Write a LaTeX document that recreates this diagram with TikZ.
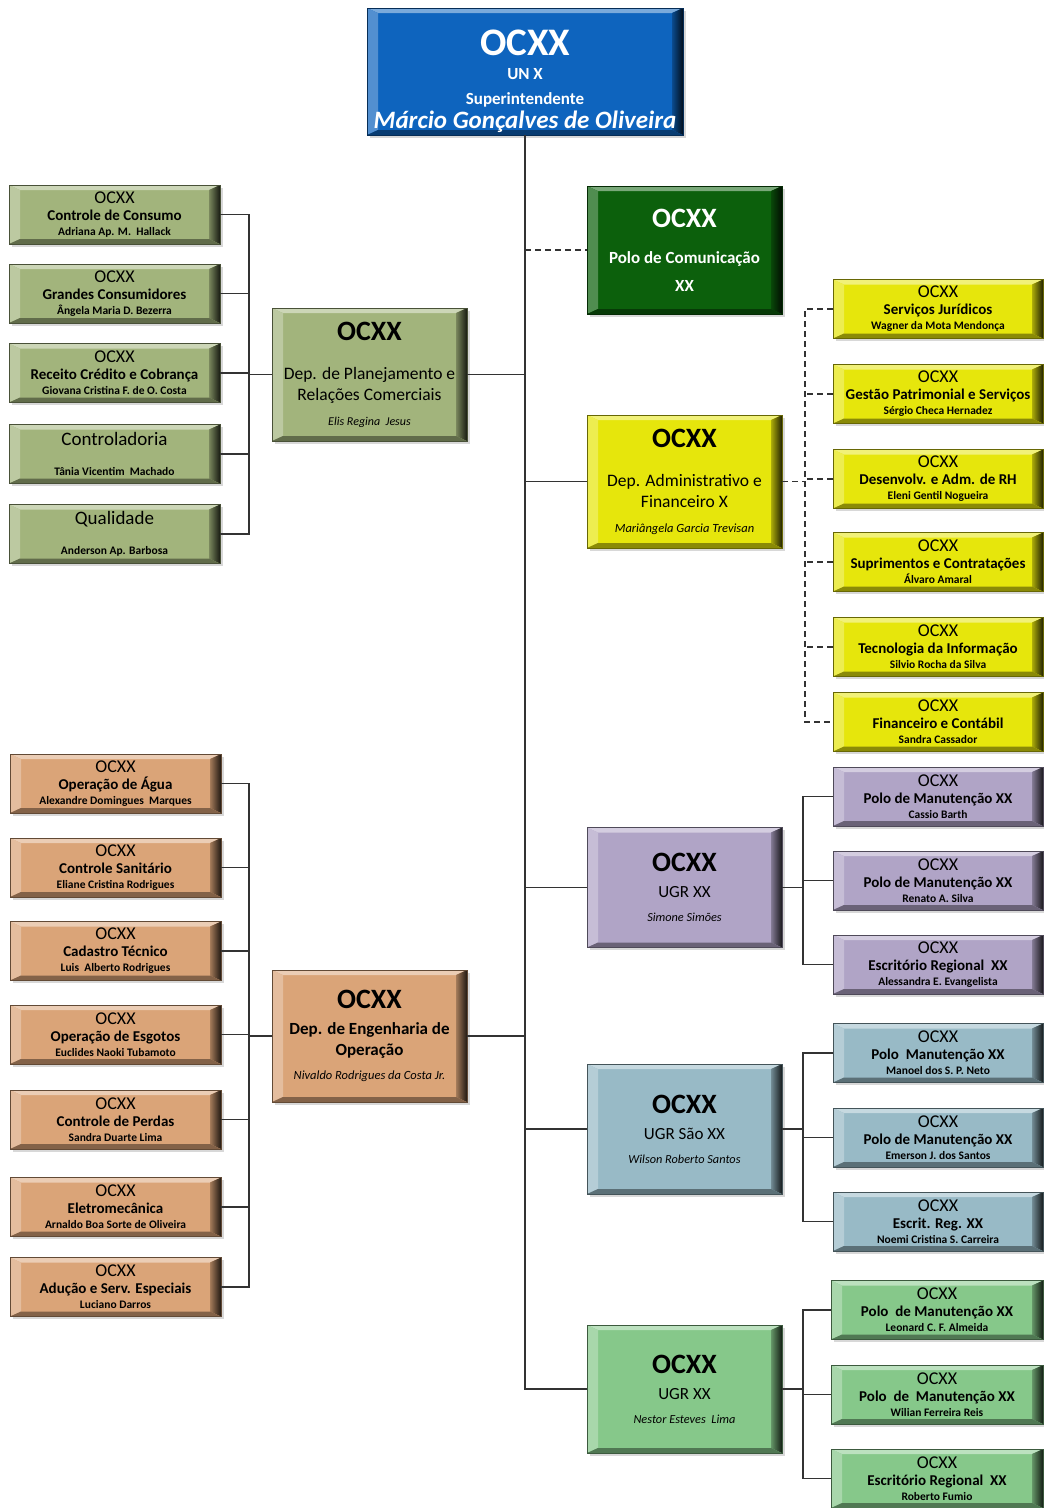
\documentclass[tikz,border=0pt]{standalone}
\usepackage{fontspec}
\setmainfont{Carlito}
\usetikzlibrary{shadows}

\definecolor{supblue}{RGB}{14,100,190}
\definecolor{comgreen}{RGB}{12,96,12}
\definecolor{plangreen}{RGB}{162,180,124}
\definecolor{admyellow}{RGB}{230,230,12}
\definecolor{engtan}{RGB}{218,164,120}
\definecolor{ugrlilac}{RGB}{176,164,198}
\definecolor{ugrsteel}{RGB}{152,186,198}
\definecolor{ugrgreen}{RGB}{134,200,138}

\tikzset{
  orgbox/.style={fill=#1, draw=#1!45!black, line width=.5pt,
    drop shadow={shadow xshift=2.5pt, shadow yshift=-2.5pt, opacity=.3},
    align=center, inner sep=0pt,
    path picture={
      \path (path picture bounding box.north west) coordinate (bnw)
            (path picture bounding box.north east) coordinate (bne)
            (path picture bounding box.south west) coordinate (bsw)
            (path picture bounding box.south east) coordinate (bse);
      \fill[#1!55!white] (bnw) -- (bne) -- ([shift={(-11pt,-5pt)}]bne) -- ([shift={(11pt,-5pt)}]bnw) -- cycle;
      \fill[#1!72!white] (bnw) -- (bsw) -- ([shift={(11pt,5pt)}]bsw) -- ([shift={(11pt,-5pt)}]bnw) -- cycle;
      \shade[left color=#1!75!black, right color=#1!15!black] (bne) -- (bse) -- ([shift={(-11pt,5pt)}]bse) -- ([shift={(-11pt,-5pt)}]bne) -- cycle;
      \fill[#1!60!black] (bsw) -- (bse) -- ([shift={(-11pt,5pt)}]bse) -- ([shift={(11pt,5pt)}]bsw) -- cycle;
    }},
  smallbox/.style={orgbox=#1, minimum width=211, minimum height=59,
    font=\fontsize{18}{17}\selectfont},
  bigbox/.style={orgbox=#1, minimum width=195, minimum height=130},
  conn/.style={draw=black!80, line width=1.3pt},
  dashconn/.style={conn, dash pattern=on 6pt off 4pt},
}

% three lines of a small unit box
\newcommand{\unitlbl}[2]{OCXX\\{\bfseries\fontsize{15}{17}\selectfont #1}\\[-2pt]{\bfseries\fontsize{11.5}{17}\selectfont #2}}

\begin{document}
\begin{tikzpicture}[x=1pt,y=-1pt]
    \path[use as bounding box, fill=white] (0,0) rectangle (1044,1508);

    % superintendencia
    \node[orgbox=supblue, text=white, minimum width=316, minimum height=127,
          font=\bfseries\fontsize{17}{25}\selectfont] (sup) at (525,71.5)
        {\rule{0pt}{45pt}{\fontsize{39}{25}\selectfont OCXX}\\[-1.5pt] UN X\\ Superintendente\\[-1pt]
         {\itshape\fontsize{25}{25}\selectfont Márcio Gonçalves de Oliveira}};

    % departamentos
    \node[bigbox=comgreen, text=white, minimum height=128,
          font=\bfseries\fontsize{17}{28}\selectfont] (com) at (684.5,250)
        {{\fontsize{28}{28}\selectfont OCXX}\\[8pt] Polo de Comunicação\\ XX};
    \node[bigbox=plangreen, minimum height=133, font=\fontsize{17.5}{21}\selectfont] (plan) at (369.5,374.5)
        {{\bfseries\fontsize{28}{21}\selectfont OCXX}\\[18pt] Dep. de Planejamento e\\ Relações Comerciais\\[4pt]
         {\itshape\fontsize{12}{21}\selectfont Elis Regina\ \ Jesus}};
    \node[bigbox=admyellow, minimum height=133, font=\fontsize{17.5}{21}\selectfont] (adm) at (684.5,481.5)
        {{\bfseries\fontsize{28}{21}\selectfont OCXX}\\[18pt] Dep. Administrativo e\\ Financeiro X\\[4pt]
         {\itshape\fontsize{12.5}{21}\selectfont Mariângela Garcia Trevisan}};
    \node[bigbox=engtan, minimum height=132, font=\bfseries\fontsize{17}{21}\selectfont] (eng) at (369.5,1036)
        {{\fontsize{28}{21}\selectfont OCXX}\\[5pt] Dep. de Engenharia de\\ Operação\\[3pt]
         {\mdseries\itshape\fontsize{12.5}{21}\selectfont Nivaldo Rodrigues da Costa Jr.}};
    \node[bigbox=ugrlilac, minimum height=120, font=\fontsize{17}{21}\selectfont] (ugrA) at (684.5,887.5)
        {{\bfseries\fontsize{28}{21}\selectfont OCXX}\\[5pt] UGR XX\\[3pt]
         {\itshape\fontsize{12.3}{21}\selectfont Simone Simões}};
    \node[bigbox=ugrsteel, font=\fontsize{17}{21}\selectfont] (ugrB) at (684.5,1129)
        {{\bfseries\fontsize{28}{21}\selectfont OCXX}\\[5pt] UGR São XX\\[3pt]
         {\itshape\fontsize{12.3}{21}\selectfont Wilson Roberto Santos}};
    \node[bigbox=ugrgreen, minimum height=128, font=\fontsize{17}{21}\selectfont] (ugrC) at (684.5,1389)
        {{\bfseries\fontsize{28}{21}\selectfont OCXX}\\[5pt] UGR XX\\[3pt]
         {\itshape\fontsize{12.3}{21}\selectfont Nestor Esteves\ \ Lima}};

    % planejamento
    \node[smallbox=plangreen] (plan1) at (114.5,214.5) {\unitlbl{Controle de Consumo}{Adriana Ap. M.\ \ Hallack}};
    \node[smallbox=plangreen] (plan2) at (114.5,293.5) {\unitlbl{Grandes Consumidores}{Ângela Maria D. Bezerra}};
    \node[smallbox=plangreen] (plan3) at (114.5,373) {\unitlbl{Receito Crédito e Cobrança}{Giovana Cristina F. de O. Costa}};
    \node[smallbox=plangreen, font=\fontsize{19}{17}\selectfont] (plan4) at (114.5,454)
        {Controladoria\\[13pt]{\bfseries\fontsize{11.5}{17}\selectfont Tânia Vicentim\ \ Machado}};
    \node[smallbox=plangreen, font=\fontsize{19}{17}\selectfont] (plan5) at (114.5,534)
        {Qualidade\\[13pt]{\bfseries\fontsize{11.5}{17}\selectfont Anderson Ap. Barbosa}};

    % administrativo
    \node[smallbox=admyellow, minimum width=210] (adm1) at (938,309) {\unitlbl{Serviços Jurídicos}{Wagner da Mota Mendonça}};
    \node[smallbox=admyellow, minimum width=210] (adm2) at (938,394) {\unitlbl{Gestão Patrimonial e Serviços}{Sérgio Checa Hernadez}};
    \node[smallbox=admyellow, minimum width=210] (adm3) at (938,479) {\unitlbl{Desenvolv. e Adm. de RH}{Eleni Gentil Nogueira}};
    \node[smallbox=admyellow, minimum width=210] (adm4) at (938,562) {\unitlbl{Suprimentos e Contratações}{Álvaro Amaral}};
    \node[smallbox=admyellow, minimum width=210] (adm5) at (938,647) {\unitlbl{Tecnologia da Informação}{Silvio Rocha da Silva}};
    \node[smallbox=admyellow, minimum width=210] (adm6) at (938,722) {\unitlbl{Financeiro e Contábil}{Sandra Cassador}};

    % engenharia
    \node[smallbox=engtan] (eng1) at (115.5,783.5) {\unitlbl{Operação de Água}{Alexandre Domingues\ \ Marques}};
    \node[smallbox=engtan] (eng2) at (115.5,867.5) {\unitlbl{Controle Sanitário}{Eliane Cristina Rodrigues}};
    \node[smallbox=engtan] (eng3) at (115.5,951) {\unitlbl{Cadastro Técnico}{Luis\ \ Alberto Rodrigues}};
    \node[smallbox=engtan] (eng4) at (115.5,1034.5) {\unitlbl{Operação de Esgotos}{Euclides Naoki Tubamoto}};
    \node[smallbox=engtan] (eng5) at (115.5,1119.5) {\unitlbl{Controle de Perdas}{Sandra Duarte Lima}};
    \node[smallbox=engtan] (eng6) at (115.5,1207) {\unitlbl{Eletromecânica}{Arnaldo Boa Sorte de Oliveira}};
    \node[smallbox=engtan] (eng7) at (115.5,1287) {\unitlbl{Adução e Serv. Especiais}{Luciano Darros}};

    % UGRs
    \node[smallbox=ugrlilac, minimum width=210] (ugrA1) at (938,796.5) {\unitlbl{Polo de Manutenção XX}{Cassio Barth}};
    \node[smallbox=ugrlilac, minimum width=210] (ugrA2) at (938,880.5) {\unitlbl{Polo de Manutenção XX}{Renato A. Silva}};
    \node[smallbox=ugrlilac, minimum width=210] (ugrA3) at (938,964.5) {\unitlbl{Escritório Regional\ \ XX}{Alessandra E. Evangelista}};
    \node[smallbox=ugrsteel, minimum width=210] (ugrB1) at (938,1053) {\unitlbl{Polo\ \ Manutenção XX}{Manoel dos S. P. Neto}};
    \node[smallbox=ugrsteel, minimum width=210] (ugrB2) at (938,1137.5) {\unitlbl{Polo de Manutenção XX}{Emerson J. dos Santos}};
    \node[smallbox=ugrsteel, minimum width=210] (ugrB3) at (938,1221.5) {\unitlbl{Escrit. Reg. XX}{Noemi Cristina S. Carreira}};
    \node[smallbox=ugrgreen, minimum width=212] (ugrC1) at (937,1310) {\unitlbl{Polo\ \ de Manutenção XX}{Leonard C. F. Almeida}};
    \node[smallbox=ugrgreen, minimum width=212] (ugrC2) at (937,1394.5) {\unitlbl{Polo\ \ de\ \ Manutenção XX}{Wilian Ferreira Reis}};
    \node[smallbox=ugrgreen, minimum width=212] (ugrC3) at (937,1478.5) {\unitlbl{Escritório Regional\ \ XX}{Roberto Fumio}};

    % tronco
    \draw[conn] (sup.south) |- (ugrC.west);
    \draw[dashconn] (sup.south |- com.west) -- (com.west);
    \draw[conn] (plan.east) -- (plan.east -| sup.south);
    \draw[conn] (sup.south |- adm.west) -- (adm.west);
    \draw[conn] (eng.east) -- (eng.east -| sup.south);
    \draw[conn] (sup.south |- ugrA.west) -- (ugrA.west);
    \draw[conn] (sup.south |- ugrB.west) -- (ugrB.west);

    % barramentos
    \coordinate (planbus) at (249,374.5);
    \draw[conn] (plan1.east) -| (planbus |- plan5.east) -- (plan5.east);
    \draw[conn] (plan2.east) -- (plan2.east -| planbus);
    \draw[conn] (plan3.east) -- (plan3.east -| planbus);
    \draw[conn] (plan4.east) -- (plan4.east -| planbus);
    \draw[conn] (planbus) -- (plan.west);

    \coordinate (engbus) at (249,1036);
    \draw[conn] (eng1.east) -| (engbus |- eng7.east) -- (eng7.east);
    \draw[conn] (eng2.east) -- (eng2.east -| engbus);
    \draw[conn] (eng3.east) -- (eng3.east -| engbus);
    \draw[conn] (eng4.east) -- (eng4.east -| engbus);
    \draw[conn] (eng5.east) -- (eng5.east -| engbus);
    \draw[conn] (eng6.east) -- (eng6.east -| engbus);
    \draw[conn] (engbus) -- (eng.west);

    \coordinate (admbus) at (805,481.5);
    \draw[dashconn] (adm.east) -- (admbus);
    \draw[dashconn] (adm1.west) -| (admbus |- adm6.west) -- (adm6.west);
    \draw[dashconn] (adm2.west) -- (adm2.west -| admbus);
    \draw[dashconn] (adm3.west) -- (adm3.west -| admbus);
    \draw[dashconn] (adm4.west) -- (adm4.west -| admbus);
    \draw[dashconn] (adm5.west) -- (adm5.west -| admbus);

    \coordinate (ugrAbus) at (803,887.5);
    \draw[conn] (ugrA.east) -- (ugrAbus);
    \draw[conn] (ugrA1.west) -| (ugrAbus |- ugrA3.west) -- (ugrA3.west);
    \draw[conn] (ugrA2.west) -- (ugrA2.west -| ugrAbus);

    \coordinate (ugrBbus) at (803,1129);
    \draw[conn] (ugrB.east) -- (ugrBbus);
    \draw[conn] (ugrB1.west) -| (ugrBbus |- ugrB3.west) -- (ugrB3.west);
    \draw[conn] (ugrB2.west) -- (ugrB2.west -| ugrBbus);

    \coordinate (ugrCbus) at (803,1389);
    \draw[conn] (ugrC.east) -- (ugrCbus);
    \draw[conn] (ugrC1.west) -| (ugrCbus |- ugrC3.west) -- (ugrC3.west);
    \draw[conn] (ugrC2.west) -- (ugrC2.west -| ugrCbus);
\end{tikzpicture}
\end{document}
